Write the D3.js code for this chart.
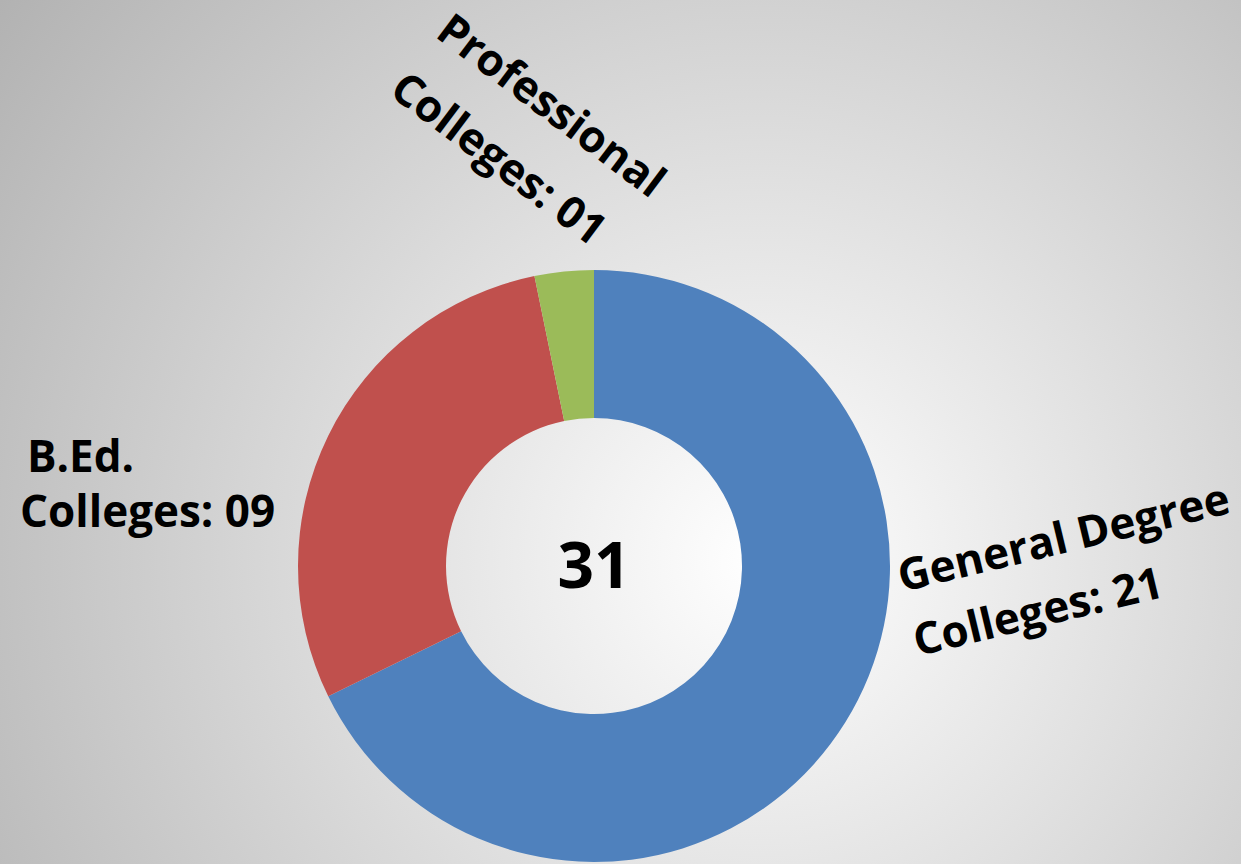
<!DOCTYPE html>
<html>
<head>
<meta charset="utf-8">
<script src="https://cdn.jsdelivr.net/npm/d3@7"></script>
<style>
  html, body { margin: 0; padding: 0; }
  svg { display: block; }
  text { font-family: "Open Sans", Lato, sans-serif; font-weight: bold; fill: #000; }
</style>
</head>
<body>
<svg id="chart" width="1241" height="864"></svg>
<script>
// chart data
var categories = ["General Degree Colleges", "B.Ed. Colleges", "Professional Colleges"];
var counts = [21, 9, 1];
var countLabels = ["21", "09", "01"];
var sliceColors = ["#4f81bd", "#c0504d", "#9bbb59"];
var total = d3.sum(counts);

var svg = d3.select("#chart");
var width = +svg.attr("width");
var height = +svg.attr("height");

// soft grey radial background
var defs = svg.append("defs");
var grad = defs.append("radialGradient")
    .attr("id", "bg")
    .attr("gradientUnits", "userSpaceOnUse")
    .attr("cx", 760).attr("cy", 560).attr("r", 944);
grad.append("stop").attr("offset", "0%").attr("stop-color", "#ffffff");
grad.append("stop").attr("offset", "100%").attr("stop-color", "#b2b2b2");

svg.append("rect")
    .attr("width", width)
    .attr("height", height)
    .attr("fill", "url(#bg)");

var cx = 594, cy = 566;
var outerR = 296, innerR = 148;

var pie = d3.pie().sort(null).value(function(d){ return d; });
var arc = d3.arc().innerRadius(innerR).outerRadius(outerR);

var g = svg.append("g").attr("transform", "translate(" + cx + "," + cy + ")");

g.selectAll("path.slice")
    .data(pie(counts))
    .enter().append("path")
    .attr("class", "slice")
    .attr("d", arc)
    .attr("fill", function(d, i){ return sliceColors[i]; });

// total in the hole
g.append("text")
    .attr("text-anchor", "middle")
    .attr("y", 22)
    .style("font-size", "64px")
    .text(total);

function splitName(name){
    var idx = name.lastIndexOf(" ");
    return [name.substring(0, idx), name.substring(idx + 1)];
}

// where each two-line label sits
var labelSpots = [
    {x: 902, y: 592, rot: -13.5, gap: 66, dx: [0, 0]},
    {x: 20, y: 472, rot: 0, gap: 55, dx: [7, 0]},
    {x: 434, y: 36, rot: 37, gap: 74, dx: [0, -2]}
];

labelSpots.forEach(function(p, i){
    var parts = splitName(categories[i]);
    var t = svg.append("text")
        .attr("transform", "translate(" + p.x + "," + p.y + ") rotate(" + p.rot + ")")
        .style("font-size", "44px");
    t.append("tspan").attr("x", p.dx[0]).attr("y", 0).text(parts[0]);
    t.append("tspan").attr("x", p.dx[1]).attr("y", p.gap).text(parts[1] + ": " + countLabels[i]);
});
</script>
</body>
</html>
